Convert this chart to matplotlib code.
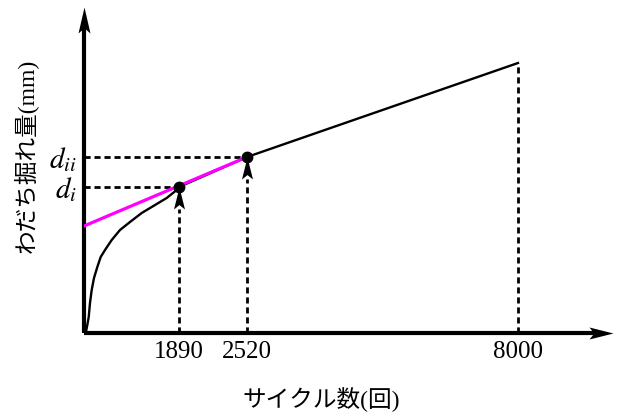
import numpy as np
import matplotlib
matplotlib.use("Agg")
import matplotlib.pyplot as plt
from matplotlib.path import Path

# --- data -------------------------------------------------------------
tick_cycles = [1890, 2520, 8000]
tick_labels = ["1890", "2520", "8000"]

curve_cycles = [30, 40, 66, 94, 119, 153, 199, 265, 332, 418, 551, 716, 915,
                1148, 1413, 1645, 1844, 1890, 2520, 8000]
curve_depth = [0.0, 0.013, 0.08, 0.16, 0.30, 0.43, 0.55, 0.66, 0.76, 0.83,
               0.93, 1.03, 1.11, 1.20, 1.28, 1.35, 1.43, 1.46, 1.76, 2.70]

d_i = 1.46
d_ii = 1.76
tangent_cycles = [0, 2520]
tangent_depth = [1.07, 1.76]

# --- schematic (piecewise) horizontal scale ----------------------------
scale_cycles = [0, 1890, 2520, 8000, 10000]
scale_pos = [0, 95, 163, 434, 533]


def fwd(x):
    return np.interp(x, scale_cycles, scale_pos)


def inv(p):
    return np.interp(p, scale_pos, scale_cycles)


def arrow_head(direction, length, half_width, notch=0.8):
    """Notched arrowhead marker whose tip sits on the data point."""
    L, w, n = length, half_width, notch * length
    if direction == "up":
        verts = [(0, 0), (-w, -L), (0, -n), (w, -L), (0, 0)]
    else:
        verts = [(0, 0), (-L, w), (-n, 0), (-L, -w), (0, 0)]
    codes = [Path.MOVETO, Path.LINETO, Path.LINETO, Path.LINETO, Path.CLOSEPOLY]
    size = 2 * max(L, w) * 0.72  # pixels -> points at 100 dpi
    return Path(verts, codes), size


plt.rcParams["mathtext.fontset"] = "stix"

fig = plt.figure(figsize=(6.17, 4.12), dpi=100)
ax = fig.add_axes([84 / 617, 79 / 412, 526 / 617, 325 / 412])
ax.set_xscale("function", functions=(fwd, inv))
ax.set_xlim(0, float(inv(526)))
ax.set_ylim(0, 3.25)
for s in ax.spines.values():
    s.set_visible(False)

# axes drawn as arrows
tr = ax.transAxes
x_tip = (613 - 84) / 526
y_tip = (333 - 7) / 325
ax.plot([0, 0], [0, y_tip - 0.05], color="black", lw=3, transform=tr,
        clip_on=False, solid_capstyle="butt")
ax.plot([0, x_tip - 0.03], [0, 0], color="black", lw=3, transform=tr,
        clip_on=False, solid_capstyle="butt")
p_up, s_up = arrow_head("up", 26, 6)
p_rt, s_rt = arrow_head("right", 24, 6)
ax.plot([0], [y_tip], marker=p_up, ms=s_up, color="black", mew=0,
        transform=tr, clip_on=False)
ax.plot([x_tip], [0], marker=p_rt, ms=s_rt, color="black", mew=0,
        transform=tr, clip_on=False)

dash = (0, (2.2, 1.4))
# guide lines
ax.plot([0, 1890], [d_i, d_i], ls=dash, lw=2, color="black")
ax.plot([0, 2520], [d_ii, d_ii], ls=dash, lw=2, color="black")
ax.plot([1890, 1890], [0, d_i - 0.22], ls=dash, lw=2, color="black")
ax.plot([2520, 2520], [0, d_ii - 0.22], ls=dash, lw=2, color="black")
ax.plot([8000, 8000], [0, curve_depth[-1]], ls=dash, lw=2, color="black")

# rutting curve and tangent
ax.plot(curve_cycles, curve_depth, color="black", lw=1.7,
        solid_joinstyle="round")
ax.plot(tangent_cycles, tangent_depth, color="#ff00ff", lw=2.3)

# pointer arrows
p_ptr, s_ptr = arrow_head("up", 22, 5.5)
ax.plot([1890, 2520], [d_i, d_ii], ls="none", marker=p_ptr, ms=s_ptr,
        color="black", mew=0, zorder=4)
ax.plot([1890, 2520], [d_i, d_ii], "o", color="black", ms=7.5, zorder=5)

ax.set_xticks(tick_cycles)
ax.set_xticklabels(tick_labels, family="Liberation Serif", fontsize=18)
ax.set_yticks([d_i, d_ii])
ax.set_yticklabels([r"$d_i$", r"$d_{ii}$"], fontsize=21)
ax.tick_params(axis="both", length=0)
ax.tick_params(axis="x", pad=6)
ax.tick_params(axis="y", pad=5)
ax.xaxis.set_minor_locator(matplotlib.ticker.NullLocator())

jp = ["Liberation Serif", "Noto Sans CJK JP"]
fig.text(321 / 617, 1 - 400 / 412, "サイクル数(回)", family=jp,
         fontsize=17, ha="center", va="center")
fig.text(25 / 617, 1 - 156 / 412, "わだち掘れ量(mm)", family=jp,
         fontsize=17, ha="center", va="center", rotation=90)

fig.savefig("out.png", dpi=100)
